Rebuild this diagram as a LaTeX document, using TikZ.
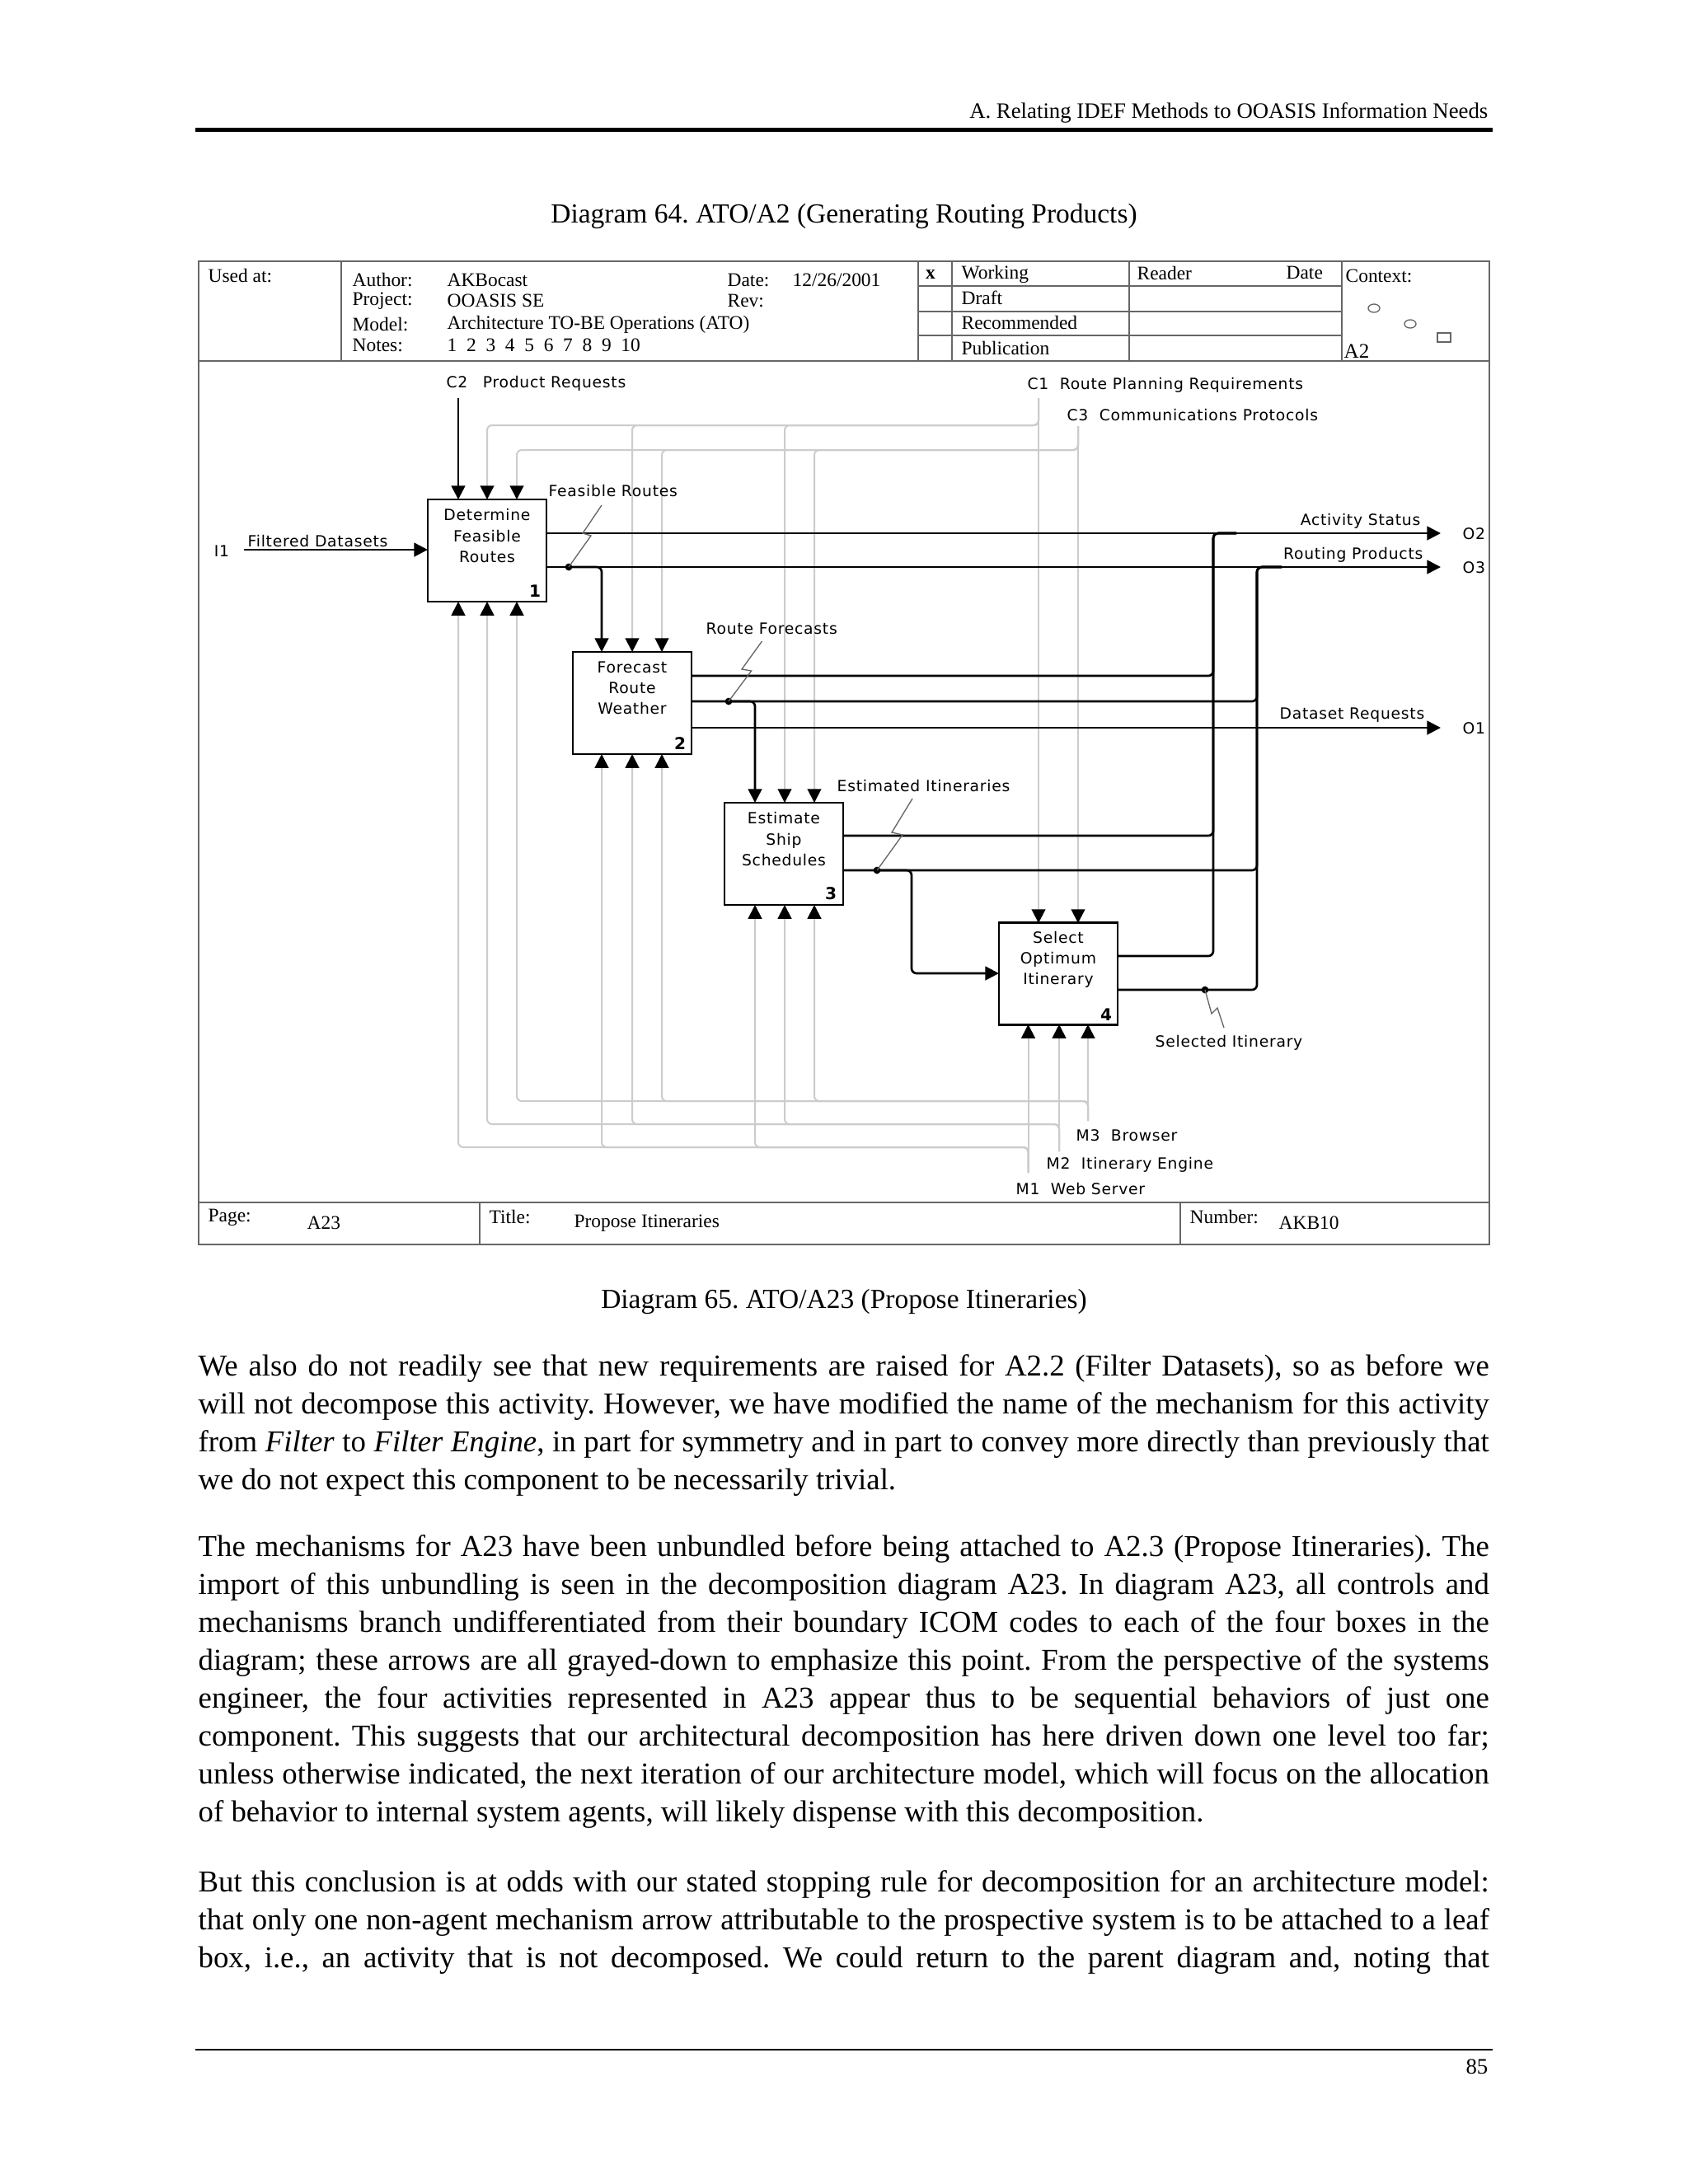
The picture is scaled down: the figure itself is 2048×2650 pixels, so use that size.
\documentclass[tikz,border=0pt]{standalone}
\usepackage{fontspec}
\setmainfont{Liberation Serif}
\newfontfamily\lab[LetterSpace=4]{DejaVu Sans}
\usetikzlibrary{arrows.meta}
\frenchspacing
\begin{document}
\begin{tikzpicture}[x=0.29883pt,y=-0.29883pt,
  lbl/.style={font=\lab\fontsize{5.6}{7}\selectfont, inner sep=0pt},
  btxt/.style={font=\lab\fontsize{5.6}{7.5}\selectfont, align=center, inner sep=0pt},
  bnum/.style={font=\lab\bfseries\fontsize{6}{7}\selectfont, inner sep=0pt},
  ftxt/.style={font=\fontsize{7}{8}\selectfont, inner sep=0pt, anchor=west},
  body/.style={font=\frenchspacing\fontsize{11}{13.75}\selectfont, inner sep=0pt, anchor=base west},
  box/.style={draw=black, line width=0.8pt, minimum width=43.03pt, minimum height=37.05pt, inner sep=0pt},
  flow/.style={draw=black, line width=0.8pt, rounded corners=1.8pt},
  gflow/.style={draw=black!20, line width=0.6pt, rounded corners=1.8pt},
  tip/.style={-{Triangle[length=5pt,width=5pt,black]}},
  squig/.style={draw=black!60, line width=0.4pt},
  frame/.style={draw=black!60, line width=0.6pt}]
\fill[white] (0,0) rectangle (2048,2650);
\useasboundingbox (0,0) rectangle (2048,2650);

% ---------- page header ----------
\node[font=\fontsize{8}{9}\selectfont, inner sep=0pt, anchor=base east] (hdr) at (1806,143) {A. Relating IDEF Methods to OOASIS Information Needs};
\coordinate (hrl) at (237,157); \coordinate (hrr) at (1811,157);
\draw[line width=1.5pt] (hrl) -- (hrr);
\node[font=\frenchspacing\fontsize{10}{12}\selectfont, inner sep=0pt, anchor=base] (cap64) at (1024,270) {Diagram 64. ATO/A2 (Generating Routing Products)};

% ---------- IDEF0 form ----------
\draw[frame] (241,317) rectangle (1807,1510);
\draw[frame] (241,438) -- (1807,438);
\draw[frame] (241,1459) -- (1807,1459);
\draw[frame] (414,317) -- (414,438);
\draw[frame] (1114,317) -- (1114,438);
\draw[frame] (1155,317) -- (1155,438);
\draw[frame] (1370,317) -- (1370,438);
\draw[frame] (1628,317) -- (1628,438);
\draw[frame] (1114,347) -- (1628,347);
\draw[frame] (1114,378) -- (1628,378);
\draw[frame] (1114,407) -- (1628,407);
\draw[frame] (582,1459) -- (582,1510);
\draw[frame] (1432,1459) -- (1432,1510);

\node[ftxt] (usedat) at (252,335) {Used at:};
\node[ftxt] (author) at (427,340) {Author:};
\node[ftxt] (authorv) at (542,340) {AKBocast};
\node[ftxt] (date) at (882,340) {Date:};
\node[ftxt] (datev) at (961,340) {12/26/2001};
\node[ftxt] (proj) at (427,365) {Project:};
\node[ftxt] (projv) at (542,365) {OOASIS SE};
\node[ftxt] (rev) at (882,365) {Rev:};
\node[ftxt] (model) at (427,394) {Model:};
\node[ftxt] (modelv) at (542,394) {Architecture TO-BE Operations (ATO)};
\node[ftxt] (notes) at (427,419) {Notes:};
\node[ftxt] (notesv) at (542,419) {1~~2~~3~~4~~5~~6~~7~~8~~9~~10};
\node[font=\bfseries\fontsize{7}{8}\selectfont, inner sep=0pt] (xmark) at (1129,333) {x};
\node[ftxt] (working) at (1166,333) {Working};
\node[ftxt] (draft) at (1166,361) {Draft};
\node[ftxt] (recom) at (1166,391) {Recommended};
\node[ftxt] (publ) at (1166,422) {Publication};
\node[ftxt] (reader) at (1379,331) {Reader};
\node[ftxt] (rdate) at (1560,331) {Date};
\node[ftxt] (context) at (1632,335) {Context:};
\draw[black!60, line width=0.4pt] (1667,374) ellipse [x radius=2.1pt, y radius=1.5pt];
\draw[black!60, line width=0.4pt] (1711,393) ellipse [x radius=2.1pt, y radius=1.5pt];
\draw[black!60, line width=0.4pt] (1744,404) rectangle (1760,415);
\node[font=\fontsize{7.5}{8}\selectfont, inner sep=0pt, anchor=west] (ctxa) at (1630,426) {A2};

\node[ftxt] (page) at (252,1477) {Page:};
\node[ftxt] (pagev) at (372,1484) {A23};
\node[ftxt] (title) at (593,1477) {Title:};
\node[ftxt] (titlev) at (696,1484) {Propose Itineraries};
\node[ftxt] (number) at (1443,1477) {Number:};
\node[ftxt] (numberv) at (1551,1484) {AKB10};

% ---------- boxes ----------
\node[box] (b1) at (591,668) {};
\node[box] (b2) at (767,853) {};
\node[box] (b3) at (951,1036) {};
\node[box] (b4) at (1284,1181.5) {};
\node[btxt] (b1t) at (591,650) {Determine\\Feasible\\Routes};
\node[btxt] (b2t) at (767,835) {Forecast\\Route\\Weather};
\node[btxt] (b3t) at (951,1018) {Estimate\\Ship\\Schedules};
\node[btxt] (b4t) at (1284,1164) {Select\\Optimum\\Itinerary};
\node[bnum] (b1n) at (649,717) {1};
\node[bnum] (b2n) at (825,902) {2};
\node[bnum] (b3n) at (1008,1084) {3};
\node[bnum] (b4n) at (1342,1231) {4};

% ports
\coordinate (b1c1) at (556,606); \coordinate (b1c2) at (591,606); \coordinate (b1c3) at (627,606);
\coordinate (b1m1) at (556,730); \coordinate (b1m2) at (591,730); \coordinate (b1m3) at (627,730);
\coordinate (b1i) at (519,667); \coordinate (b1o1) at (663,647); \coordinate (b1o2) at (663,688);
\coordinate (b2c1) at (730,791); \coordinate (b2c2) at (767,791); \coordinate (b2c3) at (803,791);
\coordinate (b2m1) at (730,915); \coordinate (b2m2) at (767,915); \coordinate (b2m3) at (803,915);
\coordinate (b2o1) at (839,820); \coordinate (b2o2) at (839,851); \coordinate (b2o3) at (839,883);
\coordinate (b3c1) at (916,974); \coordinate (b3c2) at (952,974); \coordinate (b3c3) at (988,974);
\coordinate (b3m1) at (916,1098); \coordinate (b3m2) at (952,1098); \coordinate (b3m3) at (988,1098);
\coordinate (b3o1) at (1023,1014); \coordinate (b3o2) at (1023,1056);
\coordinate (b4c1) at (1260,1120); \coordinate (b4c2) at (1308,1120);
\coordinate (b4m1) at (1247.5,1243); \coordinate (b4m2) at (1285,1243); \coordinate (b4m3) at (1320,1243);
\coordinate (b4i) at (1212,1181); \coordinate (b4o1) at (1356,1160); \coordinate (b4o2) at (1356,1201);

% boundary ends
\coordinate (I1) at (296,667);
\coordinate (C2) at (556,483);
\coordinate (C1) at (1260,483); \coordinate (C1bus) at (1260,516);
\coordinate (C3) at (1308,517); \coordinate (C3bus) at (1308,546);
\coordinate (M1) at (1247.5,1423); \coordinate (M1bus) at (1247.5,1392);
\coordinate (M2) at (1285,1397); \coordinate (M2bus) at (1285,1364);
\coordinate (M3) at (1320,1360); \coordinate (M3bus) at (1320,1336);
\coordinate (O2) at (1748,647); \coordinate (O3) at (1748,688); \coordinate (O1) at (1748,883);
\coordinate (J1) at (1472,647); \coordinate (J1r) at (1500,647);
\coordinate (J2) at (1525,688); \coordinate (J2r) at (1555,688);
\coordinate (d1) at (690,688); \coordinate (d2) at (884,851);
\coordinate (d3) at (1064,1056); \coordinate (d4) at (1462,1201);
\coordinate (k3) at (1106,1056);

% ---------- gray controls and mechanisms ----------
\draw[gflow,tip] (C1) -- (b4c1);
\foreach \p in {b1c2,b2c2,b3c2} \draw[gflow,tip] (C1) -- (C1bus) -- (C1bus -| \p) -- (\p);
\draw[gflow,tip] (C3) -- (b4c2);
\foreach \p in {b1c3,b2c3,b3c3} \draw[gflow,tip] (C3) -- (C3bus) -- (C3bus -| \p) -- (\p);
\draw[gflow,tip] (M1) -- (b4m1);
\foreach \p in {b1m1,b2m1,b3m1} \draw[gflow,tip] (M1) -- (M1bus) -- (M1bus -| \p) -- (\p);
\draw[gflow,tip] (M2) -- (b4m2);
\foreach \p in {b1m2,b2m2,b3m2} \draw[gflow,tip] (M2) -- (M2bus) -- (M2bus -| \p) -- (\p);
\draw[gflow,tip] (M3) -- (b4m3);
\foreach \p in {b1m3,b2m3,b3m3} \draw[gflow,tip] (M3) -- (M3bus) -- (M3bus -| \p) -- (\p);

% ---------- black flows ----------
\draw[flow,tip] (I1) -- (b1i);
\draw[flow,tip] (C2) -- (b1c1);
\draw[flow,tip] (b1o1) -- (O2);
\draw[flow,tip] (b1o2) -- (O3);
\draw[flow,tip] (d1) -- (d1 -| b2c1) -- (b2c1);
\draw[flow] (b2o1) -- (b2o1 -| J1) -- (J1) -- (J1r);
\draw[flow] (b2o2) -- (b2o2 -| J2) -- (J2) -- (J2r);
\draw[flow,tip] (b2o3) -- (O1);
\draw[flow,tip] (d2) -- (d2 -| b3c1) -- (b3c1);
\draw[flow] (b3o1) -- (b3o1 -| J1) -- (J1) -- (J1r);
\draw[flow] (b3o2) -- (b3o2 -| J2) -- (J2) -- (J2r);
\draw[flow,tip] (d3) -- (k3) -- (k3 |- b4i) -- (b4i);
\draw[flow] (b4o1) -- (b4o1 -| J1) -- (J1) -- (J1r);
\draw[flow] (b4o2) -- (b4o2 -| J2) -- (J2) -- (J2r);
\foreach \d in {d1,d2,d3,d4} \fill (\d) circle [radius=1.3pt];

% squiggles
\coordinate (s1a) at (730,613); \coordinate (s1b) at (707,647); \coordinate (s1c) at (717,650);
\draw[squig] (s1a) -- (s1b) -- (s1c) -- (d1);
\coordinate (s2a) at (924.5,778); \coordinate (s2b) at (900,812); \coordinate (s2c) at (911.6,814);
\draw[squig] (s2a) -- (s2b) -- (s2c) -- (d2);
\coordinate (s3a) at (1107,969); \coordinate (s3b) at (1082,1010); \coordinate (s3c) at (1095,1013);
\draw[squig] (s3a) -- (s3b) -- (s3c) -- (d3);
\coordinate (s4a) at (1485,1247); \coordinate (s4b) at (1477,1223); \coordinate (s4c) at (1470,1230);
\draw[squig] (s4a) -- (s4b) -- (s4c) -- (d4);

% ---------- labels ----------
\node[lbl, anchor=west] (lC2) at (541,465) {C2\hspace{5.5pt}Product Requests};
\node[lbl, anchor=west] (lC1) at (1246,467) {C1\hspace{4pt}Route Planning Requirements};
\node[lbl, anchor=west] (lC3) at (1294,503) {C3\hspace{4pt}Communications Protocols};
\node[lbl, anchor=west] (lFR) at (665,595) {Feasible Routes};
\node[lbl] (lI1) at (269,669) {I1};
\node[lbl, anchor=west] (lFD) at (300,656) {Filtered Datasets};
\node[lbl, anchor=east] (lAS) at (1724,632) {Activity Status};
\node[lbl, anchor=west] (lO2) at (1774,648) {O2};
\node[lbl, anchor=east] (lRP) at (1727,673) {Routing Products};
\node[lbl, anchor=west] (lO3) at (1774,689) {O3};
\node[lbl, anchor=west] (lRF) at (856,763) {Route Forecasts};
\node[lbl, anchor=east] (lDR) at (1729,868) {Dataset Requests};
\node[lbl, anchor=west] (lO1) at (1774,884) {O1};
\node[lbl, anchor=west] (lEI) at (1015,953) {Estimated Itineraries};
\node[lbl, anchor=west] (lSI) at (1401,1265) {Selected Itinerary};
\node[lbl, anchor=west] (lM3) at (1305,1378) {M3\hspace{4pt}Browser};
\node[lbl, anchor=west] (lM2) at (1269,1413) {M2\hspace{4pt}Itinerary Engine};
\node[lbl, anchor=west] (lM1) at (1232,1442) {M1\hspace{4pt}Web Server};

% ---------- caption and body ----------
\node[font=\frenchspacing\fontsize{10}{12}\selectfont, inner sep=0pt, anchor=base] (cap65) at (1024,1587) {Diagram 65. ATO/A23 (Propose Itineraries)};

\node[body] (p1a) at (240,1669) {\makebox[468pt][s]{We also do not readily see that new requirements are raised for A2.2 (Filter Datasets), so as before we}};
\node[body] (p1b) at (240,1715) {\makebox[468pt][s]{will not decompose this activity. However, we have modified the name of the mechanism for this activity}};
\node[body] (p1c) at (240,1761) {\makebox[468pt][s]{from \textit{Filter} to \textit{Filter Engine}, in part for symmetry and in part to convey more directly than previously that}};
\node[body] (p1d) at (240,1807) {we do not expect this component to be necessarily trivial.};

\node[body] (p2a) at (240,1888) {\makebox[468pt][s]{The mechanisms for A23 have been unbundled before being attached to A2.3 (Propose Itineraries). The}};
\node[body] (p2b) at (240,1934) {\makebox[468pt][s]{import of this unbundling is seen in the decomposition diagram A23. In diagram A23, all controls and}};
\node[body] (p2c) at (240,1980) {\makebox[468pt][s]{mechanisms branch undifferentiated from their boundary ICOM codes to each of the four boxes in the}};
\node[body] (p2d) at (240,2026) {\makebox[468pt][s]{diagram; these arrows are all grayed-down to emphasize this point. From the perspective of the systems}};
\node[body] (p2e) at (240,2072) {\makebox[468pt][s]{engineer, the four activities represented in A23 appear thus to be sequential behaviors of just one}};
\node[body] (p2f) at (240,2118) {\makebox[468pt][s]{component. This suggests that our architectural decomposition has here driven down one level too far;}};
\node[body] (p2g) at (240,2164) {\makebox[468pt][s]{unless otherwise indicated, the next iteration of our architecture model, which will focus on the allocation}};
\node[body] (p2h) at (240,2210) {of behavior to internal system agents, will likely dispense with this decomposition.};

\node[body] (p3a) at (240,2295) {\makebox[468pt][s]{But this conclusion is at odds with our stated stopping rule for decomposition for an architecture model:}};
\node[body] (p3b) at (240,2341) {\makebox[468pt][s]{that only one non-agent mechanism arrow attributable to the prospective system is to be attached to a leaf}};
\node[body] (p3c) at (240,2387) {\makebox[468pt][s]{box, i.e., an activity that is not decomposed. We could return to the parent diagram and, noting that}};

% ---------- page footer ----------
\coordinate (frl) at (237,2487); \coordinate (frr) at (1811,2487);
\draw[line width=0.6pt] (frl) -- (frr);
\node[font=\fontsize{8}{9}\selectfont, inner sep=0pt, anchor=base east] (pnum) at (1806,2516) {85};
\end{tikzpicture}
\end{document}
